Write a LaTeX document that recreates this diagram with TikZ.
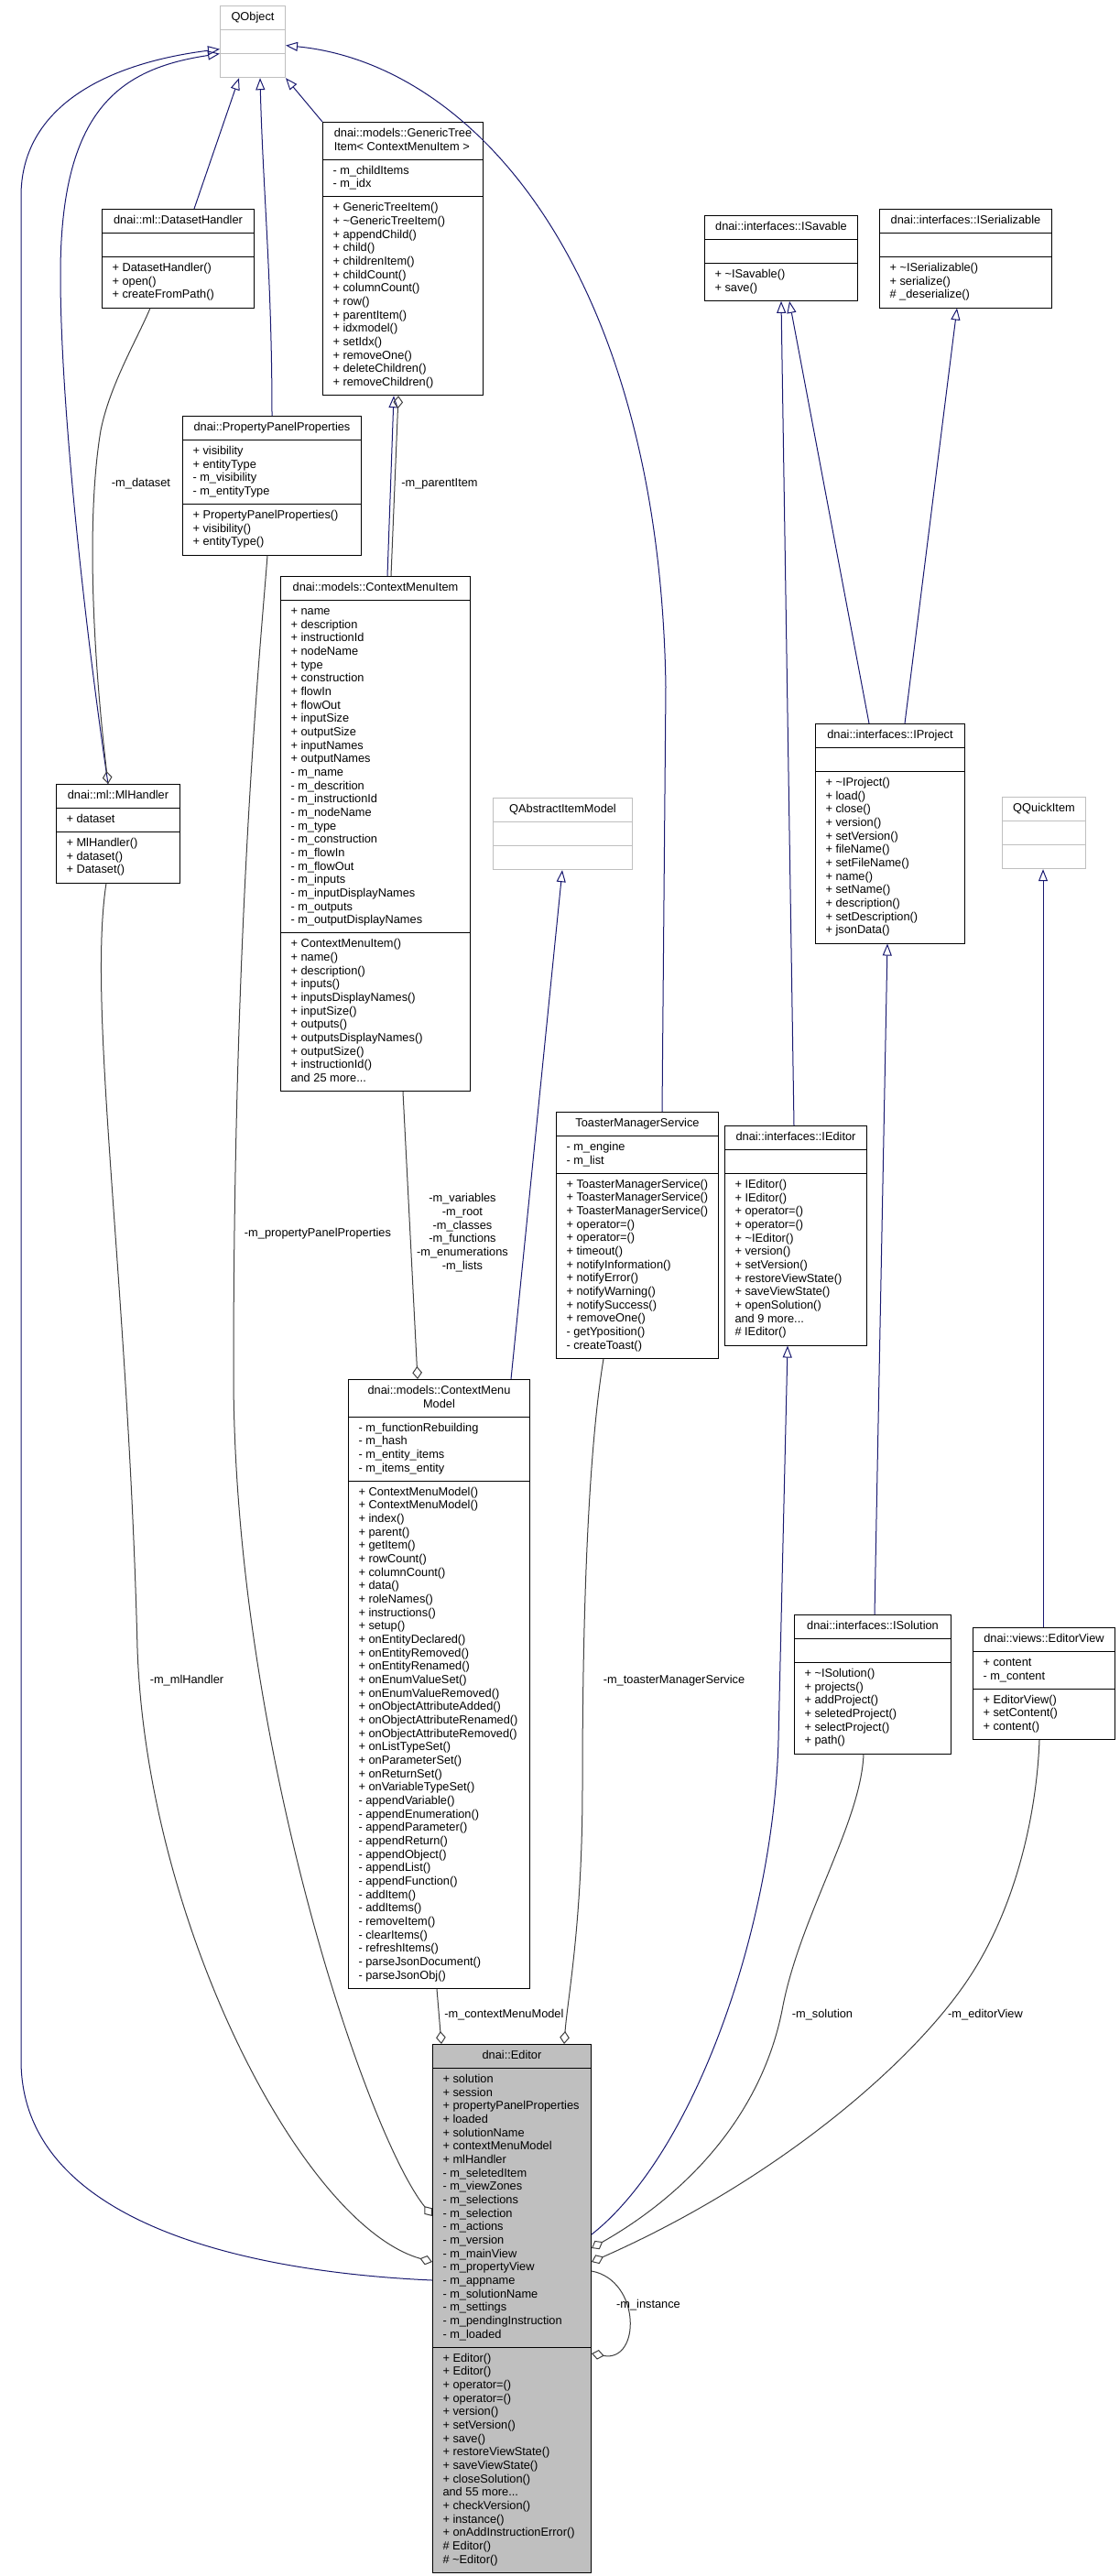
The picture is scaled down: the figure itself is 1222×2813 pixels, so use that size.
\documentclass[tikz,border=0pt]{standalone}
\usepackage{fontspec}
\setmainfont{Liberation Sans}
\usetikzlibrary{shapes.multipart,arrows.meta,calc}

\definecolor{inhcol}{HTML}{191970}
\definecolor{usecol}{HTML}{404040}
\definecolor{extcol}{HTML}{BFBFBF}
\definecolor{maincol}{HTML}{BFBFBF}

\tikzset{
  umlbox/.style={draw=black, line width=0.75pt, fill=white,
    rectangle split, rectangle split parts=3, align=left, anchor=north west,
    rectangle split part align={center,left,left},
    inner xsep=8.25pt, inner ysep=3.9pt, font=\fontsize{9.6}{11}\selectfont},
  extbox/.style={umlbox, draw=extcol},
  mainbox/.style={umlbox, fill=maincol},
  derive/.style={draw=inhcol, line width=0.75pt, -{Triangle[open, length=9.75pt, width=7.5pt]}},
  member/.style={draw=usecol, line width=0.75pt, {Diamond[open, length=10.5pt, width=8pt]}-},
  lbl/.style={font=\fontsize{9.6}{11}\selectfont, align=center, inner sep=0pt},
}

% class box: [style] name, top-left (px), width (px), title, attributes, methods
\newcommand{\umlclass}[7][umlbox]{%
  \node[#1, minimum width=#4*0.75pt] (#2) at (#3)
    {\strut #5\strut\nodepart{two}\strut #6\strut\nodepart{three}\strut #7\strut};}

\begin{document}
\begin{tikzpicture}[x=0.75pt, y=-0.75pt]
\useasboundingbox[fill=white] (0,0) rectangle (1222,2813);

% classes
\umlclass[extbox]{QObject}{240,6}{71}{QObject}{}{}
\umlclass{DatasetHandler}{111,228}{166}{dnai::ml::DatasetHandler}{}
  {+ DatasetHandler()\\+ open()\\+ createFromPath()}
\umlclass{GenericTree}{352,133}{175}{dnai::models::GenericTree\\Item< ContextMenuItem >}
  {- m\_childItems\\- m\_idx}
  {+ GenericTreeItem()\\+ \textasciitilde GenericTreeItem()\\+ appendChild()\\+ child()\\+ childrenItem()\\+ childCount()\\+ columnCount()\\+ row()\\+ parentItem()\\+ idxmodel()\\+ setIdx()\\+ removeOne()\\+ deleteChildren()\\+ removeChildren()}
\umlclass{PanelProps}{199,454}{195}{dnai::PropertyPanelProperties}
  {+ visibility\\+ entityType\\- m\_visibility\\- m\_entityType}
  {+ PropertyPanelProperties()\\+ visibility()\\+ entityType()}
\umlclass{MenuItem}{306,629}{207}{dnai::models::ContextMenuItem}
  {+ name\\+ description\\+ instructionId\\+ nodeName\\+ type\\+ construction\\+ flowIn\\+ flowOut\\+ inputSize\\+ outputSize\\+ inputNames\\+ outputNames\\- m\_name\\- m\_descrition\\- m\_instructionId\\- m\_nodeName\\- m\_type\\- m\_construction\\- m\_flowIn\\- m\_flowOut\\- m\_inputs\\- m\_inputDisplayNames\\- m\_outputs\\- m\_outputDisplayNames}
  {+ ContextMenuItem()\\+ name()\\+ description()\\+ inputs()\\+ inputsDisplayNames()\\+ inputSize()\\+ outputs()\\+ outputsDisplayNames()\\+ outputSize()\\+ instructionId()\\and 25 more...}
\umlclass{MlHandler}{61,856}{135}{dnai::ml::MlHandler}{+ dataset}
  {+ MlHandler()\\+ dataset()\\+ Dataset()}
\umlclass[extbox]{ItemModel}{538,871}{152}{QAbstractItemModel}{}{}
\umlclass{Savable}{769,235}{167}{dnai::interfaces::ISavable}{}
  {+ \textasciitilde ISavable()\\+ save()}
\umlclass{Serializable}{960,228}{188}{dnai::interfaces::ISerializable}{}
  {+ \textasciitilde ISerializable()\\+ serialize()\\\# \_deserialize()}
\umlclass{Project}{890,790}{163}{dnai::interfaces::IProject}{}
  {+ \textasciitilde IProject()\\+ load()\\+ close()\\+ version()\\+ setVersion()\\+ fileName()\\+ setFileName()\\+ name()\\+ setName()\\+ description()\\+ setDescription()\\+ jsonData()}
\umlclass[extbox]{QuickItem}{1094,870}{91}{QQuickItem}{}{}
\umlclass{Toaster}{607,1214}{177}{ToasterManagerService}
  {- m\_engine\\- m\_list}
  {+ ToasterManagerService()\\+ ToasterManagerService()\\+ ToasterManagerService()\\+ operator=()\\+ operator=()\\+ timeout()\\+ notifyInformation()\\+ notifyError()\\+ notifyWarning()\\+ notifySuccess()\\+ removeOne()\\- getYposition()\\- createToast()}
\umlclass{IEditor}{791,1229}{155}{dnai::interfaces::IEditor}{}
  {+ IEditor()\\+ IEditor()\\+ operator=()\\+ operator=()\\+ \textasciitilde IEditor()\\+ version()\\+ setVersion()\\+ restoreViewState()\\+ saveViewState()\\+ openSolution()\\and 9 more...\\\# IEditor()}
\umlclass{MenuModel}{380,1506}{198}{\begin{tabular}[t]{@{}c@{}}dnai::models::ContextMenu\\Model\end{tabular}}
  {- m\_functionRebuilding\\- m\_hash\\- m\_entity\_items\\- m\_items\_entity}
  {+ ContextMenuModel()\\+ ContextMenuModel()\\+ index()\\+ parent()\\+ getItem()\\+ rowCount()\\+ columnCount()\\+ data()\\+ roleNames()\\+ instructions()\\+ setup()\\+ onEntityDeclared()\\+ onEntityRemoved()\\+ onEntityRenamed()\\+ onEnumValueSet()\\+ onEnumValueRemoved()\\+ onObjectAttributeAdded()\\+ onObjectAttributeRenamed()\\+ onObjectAttributeRemoved()\\+ onListTypeSet()\\+ onParameterSet()\\+ onReturnSet()\\+ onVariableTypeSet()\\- appendVariable()\\- appendEnumeration()\\- appendParameter()\\- appendReturn()\\- appendObject()\\- appendList()\\- appendFunction()\\- addItem()\\- addItems()\\- removeItem()\\- clearItems()\\- refreshItems()\\- parseJsonDocument()\\- parseJsonObj()}
\umlclass{Solution}{867,1763}{171}{dnai::interfaces::ISolution}{}
  {+ \textasciitilde ISolution()\\+ projects()\\+ addProject()\\+ seletedProject()\\+ selectProject()\\+ path()}
\umlclass{EditorView}{1062,1777}{155}{dnai::views::EditorView}
  {+ content\\- m\_content}
  {+ EditorView()\\+ setContent()\\+ content()}
\umlclass[mainbox]{Editor}{472,2232}{173}{dnai::Editor}
  {+ solution\\+ session\\+ propertyPanelProperties\\+ loaded\\+ solutionName\\+ contextMenuModel\\+ mlHandler\\- m\_seletedItem\\- m\_viewZones\\- m\_selections\\- m\_selection\\- m\_actions\\- m\_version\\- m\_mainView\\- m\_propertyView\\- m\_appname\\- m\_solutionName\\- m\_settings\\- m\_pendingInstruction\\- m\_loaded}
  {+ Editor()\\+ Editor()\\+ operator=()\\+ operator=()\\+ version()\\+ setVersion()\\+ save()\\+ restoreViewState()\\+ saveViewState()\\+ closeSolution()\\and 55 more...\\+ checkVersion()\\+ instance()\\+ onAddInstructionError()\\\# Editor()\\\# \textasciitilde Editor()}

% heranca
\draw[derive] ($(DatasetHandler.north west)+(101,0)$) -- ($(QObject.south west)+(21,0)$);
\draw[derive] ($(PanelProps.north west)+(98,0)$) .. controls +(0,-150) and +(3,120) .. ($(QObject.south west)+(44,0)$);
\draw[derive] (GenericTree.north west) -- (QObject.south east);
\draw[derive] ($(MenuItem.north west)+(117,0)$) -- ($(GenericTree.south west)+(78,0)$);
\draw[derive] ($(MlHandler.north west)+(57,0)$) .. controls (95,700) and (66,450) .. (66,300)
  .. controls (66,120) and (130,75) .. ($(QObject.west)+(0,13)$);
\draw[derive] ($(Editor.north west)+(0,258)$) .. controls (250,2480) and (23,2420) .. (23,2250)
  -- (23,214) .. controls (23,120) and (110,70) .. ($(QObject.west)+(0,8)$);
\draw[derive] ($(Toaster.north west)+(116,0)$) -- (727,750) .. controls (720,300) and (520,70) .. ($(QObject.east)+(0,4)$);
\draw[derive] ($(MenuModel.north west)+(178,0)$) -- ($(ItemModel.south west)+(76,0)$);
\draw[derive] ($(IEditor.north west)+(76,0)$) -- ($(Savable.south west)+(84,0)$);
\draw[derive] ($(Project.north west)+(59,0)$) -- ($(Savable.south west)+(93,0)$);
\draw[derive] ($(Project.north west)+(98,0)$) -- ($(Serializable.south west)+(85,0)$);
\draw[derive] ($(Solution.north west)+(88,0)$) -- ($(Project.south west)+(79,0)$);
\draw[derive] ($(EditorView.north west)+(77,0)$) -- ($(QuickItem.south west)+(45,0)$);
\draw[derive] ($(Editor.north east)+(0,208)$) .. controls (760,2350) and (845,2100) .. (850,1900)
  -- ($(IEditor.south west)+(69,0)$);

% membros
\draw[member] ($(MlHandler.north west)+(57,0)$) .. controls (100,700) and (95,560) .. (110,470)
  .. controls (120,420) and (150,370) .. ($(DatasetHandler.south west)+(53,0)$);
\draw[member] ($(GenericTree.south west)+(83,0)$) -- ($(MenuItem.north west)+(121,0)$);
\draw[member] ($(MenuModel.north west)+(76,0)$) -- ($(MenuItem.south west)+(134,0)$);
\draw[member] ($(Editor.north west)+(10,0)$) -- ($(MenuModel.south west)+(97,0)$);
\draw[member] ($(Editor.north west)+(144,0)$) .. controls (620,2180) and (636,2100) .. (636,1950)
  .. controls (636,1800) and (640,1600) .. ($(Toaster.south west)+(52,0)$);
\draw[member] ($(Editor.north west)+(0,188)$) .. controls (400,2330) and (255,1900) .. (255,1500)
  .. controls (255,1000) and (285,700) .. ($(PanelProps.south west)+(93,0)$);
\draw[member] ($(Editor.north west)+(0,238)$) .. controls (330,2430) and (160,2100) .. (150,1800)
  .. controls (140,1400) and (95,1100) .. ($(MlHandler.south west)+(55,0)$);
\draw[member] ($(Editor.north east)+(0,223)$) .. controls (760,2390) and (835,2300) .. (855,2190)
  .. controls (875,2090) and (940,1990) .. ($(Solution.south west)+(76,0)$);
\draw[member] ($(Editor.north east)+(0,238)$) .. controls (850,2380) and (1000,2250) .. (1060,2157)
  .. controls (1110,2080) and (1132,1980) .. ($(EditorView.south west)+(73,0)$);
\draw[member] ($(Editor.north east)+(0,338)$) .. controls (700,2580) and (700,2490) .. ($(Editor.north east)+(0,248)$);

% rotulos
\node[lbl] (ldataset) at (154,528) {-m\_dataset};
\node[lbl] (lparent) at (480,528) {-m\_parentItem};
\node[lbl] (lprops) at (347,1347) {-m\_propertyPanelProperties};
\node[lbl] (lmembers) at (505,1346) {-m\_variables\\-m\_root\\-m\_classes\\-m\_functions\\-m\_enumerations\\-m\_lists};
\node[lbl, anchor=west] (lmodel) at (485,2200) {-m\_contextMenuModel};
\node[lbl] (ltoaster) at (736,1835) {-m\_toasterManagerService};
\node[lbl] (lml) at (204,1835) {-m\_mlHandler};
\node[lbl] (lsolution) at (898,2200) {-m\_solution};
\node[lbl] (lview) at (1076,2200) {-m\_editorView};
\node[lbl] (linstance) at (708,2517) {-m\_instance};
\end{tikzpicture}
\end{document}
